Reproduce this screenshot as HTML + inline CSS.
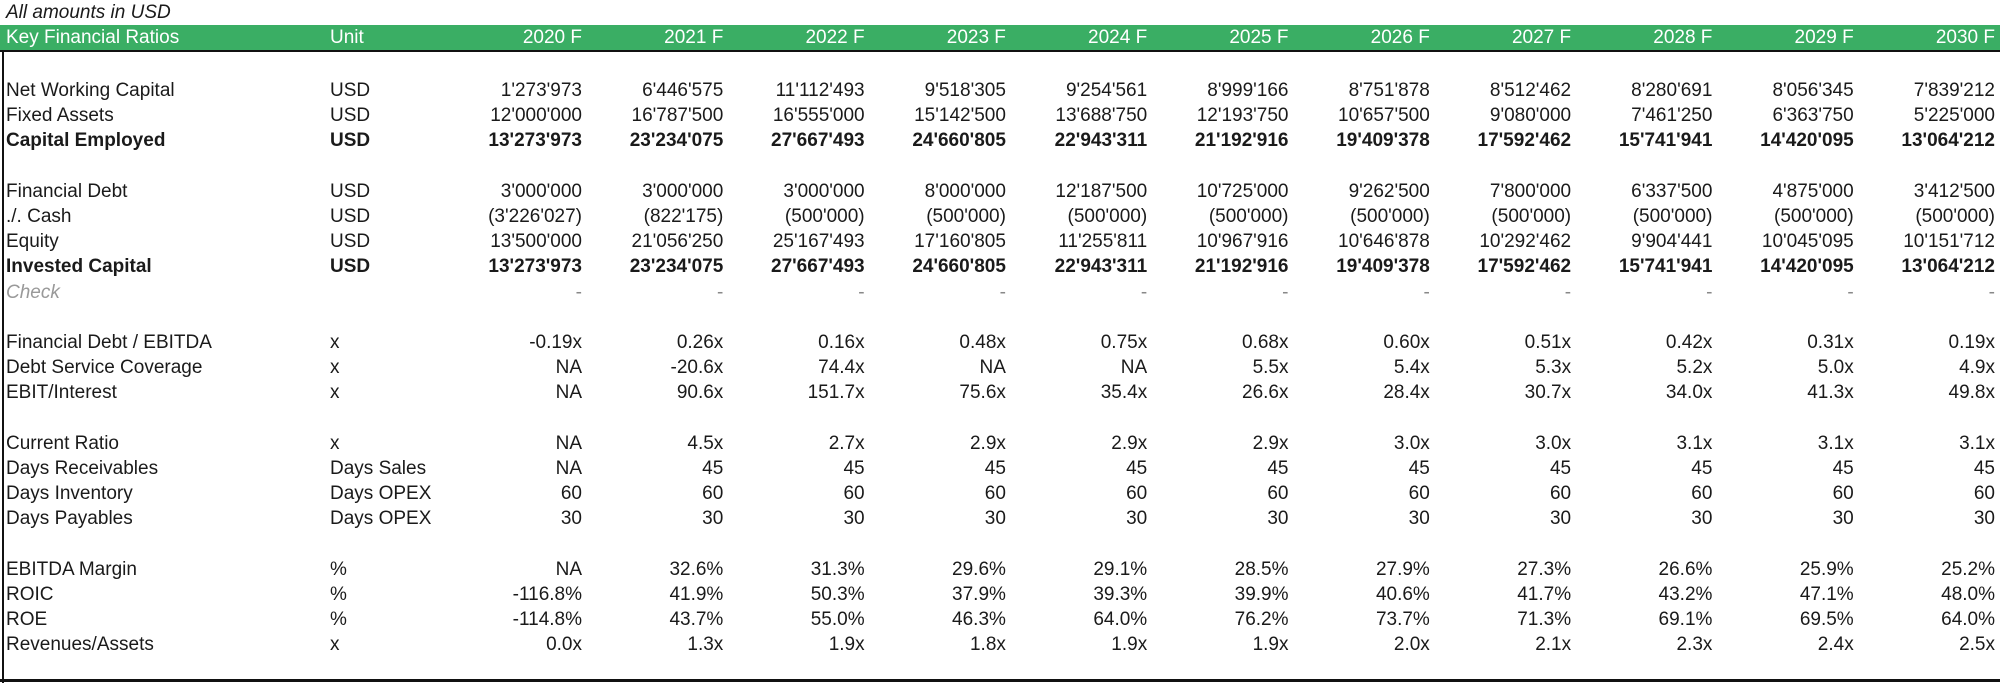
<!DOCTYPE html>
<html><head><meta charset="utf-8">
<style>
html,body{margin:0;padding:0;background:#fff;}
#wrap{position:relative;width:2000px;height:683px;overflow:hidden;font-family:"Liberation Sans",Arial,sans-serif;font-size:19px;color:#1a1a1a;}
.t{position:absolute;white-space:nowrap;line-height:26px;height:26px;}
.r{text-align:right;}
.b{font-weight:bold;}
.hd{color:#fff;}
.chk{color:#999;font-style:italic;}
.dash{color:#888;}
</style></head>
<body>
<div id="wrap">
  <div class="t" style="left:6px;top:0px;font-style:italic;">All amounts in USD</div>
  <div style="position:absolute;left:0;top:25px;width:2000px;height:25px;background:#3aae64;"></div>
  <div style="position:absolute;left:0;top:50px;width:2000px;height:2px;background:#111;"></div>
  <div style="position:absolute;left:2px;top:50px;width:2px;height:633px;background:#111;"></div>
  <div style="position:absolute;left:0;top:679px;width:2000px;height:3px;background:#111;"></div>
</div>
<script>
const years = ["2020 F","2021 F","2022 F","2023 F","2024 F","2025 F","2026 F","2027 F","2028 F","2029 F","2030 F"];
const rowLabels = ["","Net Working Capital","Fixed Assets","Capital Employed","","Financial Debt","./. Cash","Equity","Invested Capital","Check","","Financial Debt / EBITDA","Debt Service Coverage","EBIT/Interest","","Current Ratio","Days Receivables","Days Inventory","Days Payables","","EBITDA Margin","ROIC","ROE","Revenues/Assets"];
const rowUnits = ["","USD","USD","USD","","USD","USD","USD","USD","","","x","x","x","","x","Days Sales","Days OPEX","Days OPEX","","%","%","%","x"];
const rowKinds = ["","n","n","b","","n","n","n","b","c","","n","n","n","","n","n","n","n","","n","n","n","n"];
const rowValues = [
 null,
 ["1'273'973","6'446'575","11'112'493","9'518'305","9'254'561","8'999'166","8'751'878","8'512'462","8'280'691","8'056'345","7'839'212"],
 ["12'000'000","16'787'500","16'555'000","15'142'500","13'688'750","12'193'750","10'657'500","9'080'000","7'461'250","6'363'750","5'225'000"],
 ["13'273'973","23'234'075","27'667'493","24'660'805","22'943'311","21'192'916","19'409'378","17'592'462","15'741'941","14'420'095","13'064'212"],
 null,
 ["3'000'000","3'000'000","3'000'000","8'000'000","12'187'500","10'725'000","9'262'500","7'800'000","6'337'500","4'875'000","3'412'500"],
 ["(3'226'027)","(822'175)","(500'000)","(500'000)","(500'000)","(500'000)","(500'000)","(500'000)","(500'000)","(500'000)","(500'000)"],
 ["13'500'000","21'056'250","25'167'493","17'160'805","11'255'811","10'967'916","10'646'878","10'292'462","9'904'441","10'045'095","10'151'712"],
 ["13'273'973","23'234'075","27'667'493","24'660'805","22'943'311","21'192'916","19'409'378","17'592'462","15'741'941","14'420'095","13'064'212"],
 ["-","-","-","-","-","-","-","-","-","-","-"],
 null,
 ["-0.19x","0.26x","0.16x","0.48x","0.75x","0.68x","0.60x","0.51x","0.42x","0.31x","0.19x"],
 ["NA","-20.6x","74.4x","NA","NA","5.5x","5.4x","5.3x","5.2x","5.0x","4.9x"],
 ["NA","90.6x","151.7x","75.6x","35.4x","26.6x","28.4x","30.7x","34.0x","41.3x","49.8x"],
 null,
 ["NA","4.5x","2.7x","2.9x","2.9x","2.9x","3.0x","3.0x","3.1x","3.1x","3.1x"],
 ["NA","45","45","45","45","45","45","45","45","45","45"],
 ["60","60","60","60","60","60","60","60","60","60","60"],
 ["30","30","30","30","30","30","30","30","30","30","30"],
 null,
 ["NA","32.6%","31.3%","29.6%","29.1%","28.5%","27.9%","27.3%","26.6%","25.9%","25.2%"],
 ["-116.8%","41.9%","50.3%","37.9%","39.3%","39.9%","40.6%","41.7%","43.2%","47.1%","48.0%"],
 ["-114.8%","43.7%","55.0%","46.3%","64.0%","76.2%","73.7%","71.3%","69.1%","69.5%","64.0%"],
 ["0.0x","1.3x","1.9x","1.8x","1.9x","1.9x","2.0x","2.1x","2.3x","2.4x","2.5x"]
];

const wrap = document.getElementById('wrap');
const ROW_H = 25.2, FIRST_CENTER = 65.8, COL0_RIGHT = 582, COL_STEP = 141.3;
function colRight(i){ return COL0_RIGHT + i*COL_STEP; }
function rowCenter(i){ return FIRST_CENTER + i*ROW_H; }
function addText(txt, cls, left, right, cy){
  const d = document.createElement('div');
  d.className = 't ' + cls;
  d.textContent = txt;
  d.style.top = (cy - 13) + 'px';
  if (right !== null){ d.style.right = (2000 - right) + 'px'; d.style.textAlign='right'; }
  else d.style.left = left + 'px';
  wrap.appendChild(d);
  return d;
}
let h = addText("Key Financial Ratios","hd",6,null,38);


h = addText("Unit","hd",330,null,38);


years.forEach((y,i)=>{
  const e = addText(y,"hd",null,colRight(i),38);
  
  
});
rowLabels.forEach((lab,r)=>{
  if(!lab) return;
  const cy = rowCenter(r);
  const k = rowKinds[r];
  const cls = k==='b' ? 'b' : (k==='c' ? 'chk' : '');
  const slug = lab.toLowerCase().replace(/[^a-z0-9]+/g,'-').replace(/^-|-$/g,'');
  const l = addText(lab,cls,6,null,cy);
  
  
  if(rowUnits[r]){
    const u = addText(rowUnits[r],cls,330,null,cy);
    
    
  }
  const vals = rowValues[r];
  if(vals) vals.forEach((v,i)=>{
    const vc = k==='b' ? 'b' : (k==='c' ? 'dash' : '');
    const e = addText(v,vc,null,colRight(i),cy);
    
    
  });
});
</script>
</body></html>
